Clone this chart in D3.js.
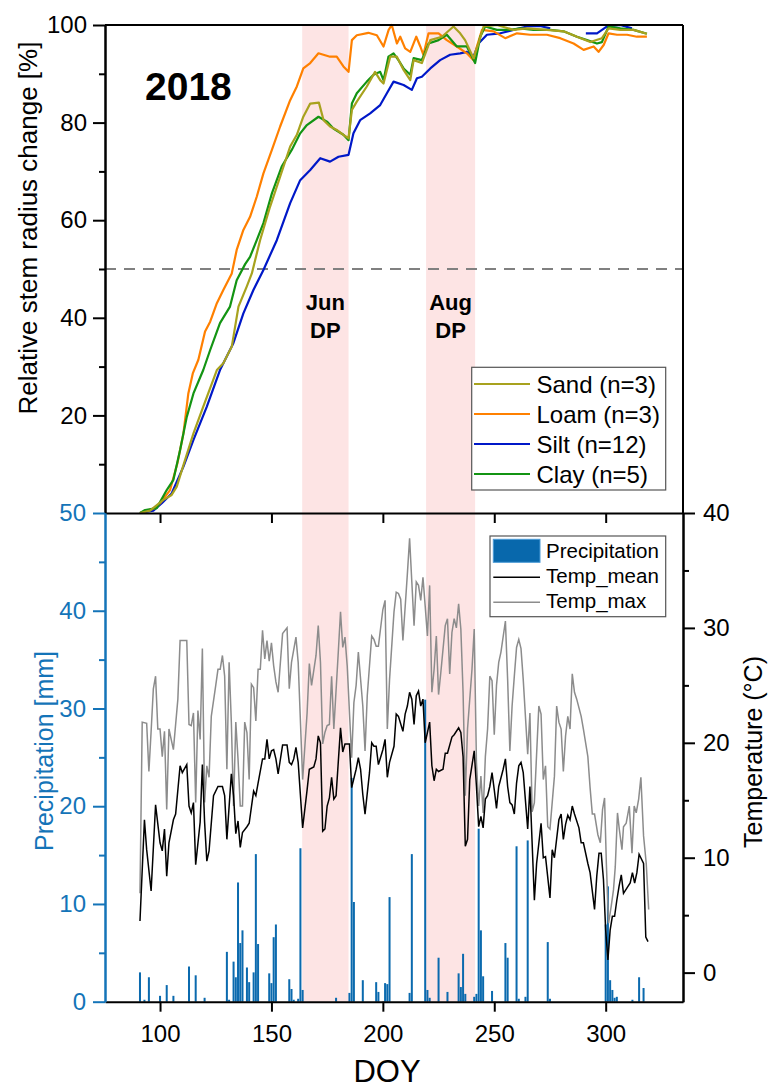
<!DOCTYPE html>
<html>
<head>
<meta charset="utf-8">
<script src="https://cdn.jsdelivr.net/npm/d3@7"></script>
<style>
  body { margin: 0; background: #fff; }
  text { font-family: "Liberation Sans", Arial, sans-serif; }
</style>
</head>
<body>
<svg id="chart" width="768" height="1089"></svg>
<script>
// stem growth curves, [DOY, relative change %]
const sand = [[91,0],[95.5,0.5],[101.5,2.7],[105.2,3.7],[107.5,5.4],[110.5,9.8],[115,16.3],[119.4,21.8],[125.5,29.3],[128.4,30.7],[132.2,34.1],[133.7,38.2],[135.2,42.3],[138.9,46.4],[141.2,49.1],[144.9,55.9],[149.4,62.8],[153.9,68.9],[158.4,75.1],[161.4,77.5],[164.3,81.2],[167.4,83.9],[171.3,84.1],[173.4,80.5],[176.3,79.2],[179.3,78.5],[182.3,77.5],[184.6,76.8],[186.1,82.6],[188.3,84.3],[192.8,87.4],[196.5,90.4],[198.8,88.7],[200.3,88.0],[203.3,93.5],[206.3,93.5],[209.3,90.8],[212.3,88.7],[213.8,92.8],[217.5,92.2],[221.3,96.9],[226.5,97.6],[231.7,99.7],[234.7,98.3],[236.9,96.9],[240.7,93.2],[242.9,96.2],[245.2,99.7],[251.2,100],[258.6,99],[264.6,99.3],[273.6,99],[281.1,98.7],[287.1,97.6],[293.1,96.5],[298.3,97.3],[301.3,99.3],[306.6,99],[312.5,99],[318.5,98.2]];
const loam = [[91,0],[97.8,1],[100,2],[104.5,4.7],[107.8,10.2],[110.5,16.3],[112.7,24.5],[114.7,28.6],[117.2,31.4],[120.2,37.2],[122.5,39.2],[125.5,43.0],[128.4,45.7],[132.2,49.1],[134.4,53.9],[137.4,58.0],[140.4,60.7],[143.4,64.8],[146.4,69.6],[150.2,74.4],[153.9,79.2],[158.4,84.6],[161.4,87.4],[164.3,91.1],[167.4,92.2],[171.1,94.2],[176.3,93.5],[179.3,93.5],[182.3,91.5],[184.6,90.4],[186.1,96.9],[188.3,97.9],[193.5,98.4],[197.3,97.9],[200.3,95.6],[202.6,99],[204,100],[206.3,96.2],[207.8,97.6],[210,95.2],[212.3,94.5],[215,97.6],[216.8,95.6],[218.2,93.9],[220.5,98.3],[225,98.3],[228.7,96.9],[233.2,95.6],[237.7,94.2],[240.7,92.8],[242.2,95.6],[244.5,99.0],[249.7,98.7],[254.9,97.3],[260.2,98.3],[266.1,98.0],[273.6,98.0],[279.6,97.3],[285.6,96.2],[290.1,94.9],[294.6,95.6],[296.8,94.5],[299.1,95.9],[301.3,98.3],[305.1,98.0],[309.6,98.0],[314,97.6],[318.5,97.6]];
const silt = [[91,0],[97,0.5],[100.8,2.0],[105.2,4.0],[110.5,9.5],[115,15.0],[121,21.8],[126.9,29.3],[132.9,34.8],[137.4,40.9],[141.9,45.7],[146.4,49.8],[152.4,55.9],[158.4,63.5],[162.9,68.2],[167.4,70.3],[171.9,72.7],[176.3,72.0],[180.1,73.0],[184.6,73.4],[186.8,77.8],[189.8,80.5],[194.3,81.9],[198.8,83.6],[201.8,86.0],[204.8,88.4],[209.3,87.7],[213,86.7],[215.3,89.1],[217.5,89.4],[221.3,91.1],[225.7,92.8],[230.2,93.9],[234.7,94.2],[237.7,94.5],[240.7,93.5],[242.9,96.2],[246.7,98],[252.7,98.3],[258.6,99],[264.6,99.7],[270.6,99.8],[275.1,99.3],[280,null],[291.1,98.3],[296.1,98.3],[300.6,99.7],[306.6,100],[311.8,99.3]];
const clay = [[91,0],[93.3,0.6],[98.5,1],[103,4.7],[106,6.8],[109,12.9],[112,19.7],[115,24.5],[119.4,29.3],[122.5,33.4],[126.9,38.9],[131.4,42.3],[134.4,47.7],[138.2,51],[140.4,52.5],[143.4,55.9],[146.4,59.4],[150.2,65.5],[154.6,71.0],[159.1,74.4],[162.9,77.8],[165.9,79.5],[171.1,81.2],[174.9,80.2],[177.8,78.8],[182.3,77.5],[184.6,76.4],[186.1,83.9],[188.3,86.0],[192.8,88.4],[195.8,89.8],[198.8,90.4],[200.3,88.7],[202.5,93.5],[204.8,94.2],[207,92.8],[209.3,91.1],[212.3,89.8],[213.8,93.2],[217.5,92.8],[220.5,96.2],[225,96.9],[228.7,98],[233.2,95.6],[237.7,95.6],[241.4,92.2],[243.7,97.6],[245.9,99.7],[251.2,99.0],[257.2,99.0],[261.7,99.3],[267.6,99.0],[275.1,99.0],[281.1,98.7],[287.1,97.6],[291.6,96.9],[296.1,96.2],[298.3,96.5],[301.3,99.7],[306.6,99.3],[312.5,99.0],[318.5,98.2]];

const soilNames = ["Sand (n=3)", "Loam (n=3)", "Silt (n=12)", "Clay (n=5)"];
const soilColors = ["#a8a21e", "#ff8000", "#0018c8", "#139413"];

// weather, [DOY, value]
const precip = [[91,3.0],[93,0.2],[95,2.5],[100,0.6],[103,1.7],[106,0.6],[113,3.6],[116,2.7],[120,0.4],[130,5.1],[131,0.2],[133,4.1],[134,2.5],[135,12.2],[136,6.0],[137,7.3],[139,3.5],[140,2.0],[142,3.0],[143,15.1],[144,5.9],[149,2.9],[150,1.9],[151,6.6],[152,7.9],[158,2.3],[159,1.3],[160,0.2],[162,0.3],[163,15.7],[164,1.2],[179,0.4],[185,0.9],[186,22.9],[187,10.2],[191,2.2],[197,2.0],[198,1.0],[201,1.9],[202,1.8],[203,10.7],[212,0.9],[213,15.1],[219,30.9],[220,1.2],[221,0.4],[225,4.5],[229,1.0],[234,2.9],[235,1.5],[236,4.9],[237,0.8],[241,0.5],[242,0.8],[243,17.7],[244,7.3],[245,2.6],[249,1.1],[255,6.0],[256,4.5],[260,15.9],[261,0.3],[264,0.5],[265,16.5],[274,6.1],[275,0.3],[300,7.9],[301,11.8],[302,2.2],[303,1.2],[304,0.4],[305,0.5],[312,0.2],[315,2.5],[317,1.4]];

const tempMean = [[91,4.5],[93,13.3],[94,10.7],[96,7.1],[98,14.6],[100,11.3],[101,10.6],[102,12.5],[103,8.4],[104,11.3],[106,13.3],[107,13.8],[109,18.0],[110,17.4],[112,18.1],[113,14.5],[114,13.9],[115,14.8],[116,9.4],[118,13.1],[119,18.1],[120,13.1],[121,9.7],[122,10.6],[124,15.4],[126,16.2],[128,16.2],[129,15.4],[130,11.6],[132,17.3],[133,15.4],[134,12.1],[135,13.2],[136,10.9],[137,12.2],[139,12.7],[140,13.0],[142,15.8],[143,15.4],[144,16.5],[146,18.6],[147,18.6],[148,20.3],[149,18.6],[150,19.3],[151,19.4],[152,18.6],[153,17.3],[155,19.8],[157,19.8],[158,18.3],[159,18.1],[160,18.6],[161,19.6],[162,18.3],[164,12.6],[166,15.9],[167,17.7],[169,17.9],[170,18.6],[171,20.6],[172,20.0],[173,12.3],[174,12.5],[175,14.5],[176,15.2],[177,17.0],[178,15.1],[179,15.4],[181,21.3],[182,19.2],[183,19.9],[185,19.9],[186,16.1],[188,17.7],[189,18.7],[190,17.7],[191,15.5],[192,13.8],[194,17.4],[195,20.0],[196,19.7],[197,19.7],[198,18.1],[200,19.4],[201,20.3],[202,17.0],[203,18.3],[205,19.7],[206,22.5],[207,22.3],[209,21.0],[210,22.5],[211,23.2],[212,24.4],[213,23.8],[214,21.6],[215,24.1],[216,24.5],[217,23.2],[218,23.8],[219,20.0],[220,20.9],[221,21.8],[222,18.0],[223,16.7],[224,17.7],[225,17.5],[227,17.7],[228,19.1],[229,19.1],[231,20.5],[232,20.7],[234,21.3],[235,20.9],[236,18.8],[237,11.0],[238,11.6],[239,16.8],[241,19.3],[242,16.2],[243,12.7],[244,13.6],[245,12.6],[246,15.1],[247,15.4],[248,16.2],[249,17.4],[250,15.9],[251,14.3],[252,16.2],[254,17.7],[255,18.6],[256,16.2],[257,14.8],[258,14.6],[259,13.8],[260,16.5],[261,18.0],[262,18.3],[263,17.4],[265,12.5],[266,16.2],[268,6.3],[269,9.5],[271,13.0],[272,10.0],[273,10.1],[275,6.5],[276,10.7],[277,10.0],[279,13.3],[280,13.8],[281,11.6],[282,12.9],[283,13.7],[284,13.3],[285,14.5],[286,13.8],[288,12.6],[289,11.3],[290,11.3],[292,9.5],[293,8.7],[295,5.5],[296,8.4],[297,10.4],[298,10.4],[299,8.1],[300,3.7],[301,1.1],[302,3.7],[303,4.9],[304,4.9],[305,6.3],[306,7.5],[307,8.5],[308,6.9],[310,7.5],[311,7.8],[312,8.7],[313,7.8],[314,8.7],[315,10.3],[317,9.5],[318,3.1],[319,2.7]];

const tempMax = [[91,6.9],[92,21.8],[94,21.7],[95,17.5],[96,21],[97,24.7],[98,25.8],[99,21.2],[100,21.2],[101,18.8],[102,21.0],[103,14.2],[104,21.2],[106,19.4],[108,23.8],[109,28.9],[112,28.9],[113,21.6],[114,21.5],[115,22.6],[116,14.8],[117,22.8],[118,20.3],[119,28.2],[120,14.8],[121,18.0],[122,17.0],[123,22.3],[125,25.0],[126,26.4],[127,26.4],[128,27.6],[129,25.8],[130,17.7],[131,27.0],[132,21.8],[133,14.5],[134,21.8],[135,18.6],[136,14.5],[137,14.5],[138,21.8],[139,20.9],[140,16.8],[141,25.1],[142,24.8],[143,21.9],[144,26.4],[145,26.4],[146,29.8],[147,27.3],[148,28.9],[149,27.1],[150,28.7],[151,26.7],[152,25.3],[153,24.4],[155,29.5],[157,30.0],[158,24.7],[159,27.0],[161,29.2],[162,27.0],[164,16.8],[166,22.6],[167,26.9],[168,25.0],[170,27.6],[171,30.2],[172,27.0],[173,19.9],[174,20.9],[175,21.5],[176,21.6],[177,25.8],[178,21.2],[180,27.9],[181,31.4],[182,28.3],[183,29.2],[184,26.7],[186,18.7],[187,23.5],[188,25.0],[189,27.9],[191,23.2],[192,19.3],[193,24.1],[195,29.3],[196,29.0],[197,28.4],[198,28.4],[200,31.6],[201,32.4],[202,21.2],[203,25.5],[205,31.4],[206,33.1],[207,33.0],[208,32.5],[209,28.9],[211,34.7],[212,37.8],[213,34.0],[214,30.2],[215,34.0],[216,33.7],[217,32.4],[218,34.4],[219,31.9],[220,29.3],[221,33.7],[222,24.4],[223,26.4],[224,29.3],[225,24.2],[226,26.1],[228,30.2],[229,30.8],[230,26.0],[231,29.6],[232,30.8],[233,30.0],[234,32.1],[235,29.9],[236,24.4],[237,15.4],[238,21.2],[240,26.4],[241,29.9],[242,18.3],[243,14.5],[244,17.1],[245,13.9],[246,18.8],[247,21.2],[248,25.8],[249,25.4],[250,20.7],[251,25.0],[252,27.0],[253,27.9],[255,30.6],[256,25.5],[257,19.3],[258,23.2],[259,25.8],[260,28.3],[261,29.0],[262,28.2],[263,25.5],[265,19.0],[266,22.6],[267,14.0],[268,14.8],[270,23.2],[271,22.5],[272,16.8],[273,18.0],[274,12.7],[275,12.5],[277,17.1],[278,23.2],[279,21.8],[280,21.2],[281,17.5],[282,20.6],[283,22.3],[284,21.2],[285,26.0],[286,24.4],[287,23.8],[289,22.3],[290,21.2],[292,18.8],[293,16.1],[294,13.8],[295,13.8],[296.5,12.0],[297.6,11.3],[298.6,14.2],[299.5,15.2],[300.3,9.5],[301.3,4.3],[302.5,5.8],[303.5,7.2],[304.3,9.2],[305.3,13.9],[306.1,12.5],[307.3,10.7],[308,12.7],[309.2,13.0],[310.6,14.5],[311.8,10.4],[312.8,14.5],[313.7,13.9],[314.8,15.1],[315.8,17.0],[317,11.9],[318.2,9.5],[319.3,5.5]];

// drought periods (DOY)
const droughtNames = ["Jun", "Aug"];
const droughtStart = [163.8, 219.4];
const droughtEnd = [184.6, 241.4];

const xTicks = [100, 150, 200, 250, 300];

const svg = d3.select("#chart");
const pLeft = 105, pRight = 683, pTop = 25, pMid = 513, pBottom = 1001.7;

const x = d3.scaleLinear().domain([75.3, 334.7]).range([pLeft, pRight]);
const yTop = d3.scaleLinear().domain([0, 100]).range([pMid, pTop]);
const yP = d3.scaleLinear().domain([0, 50]).range([pBottom, pMid]);
const yT = d3.scaleLinear().domain([-2.53, 40]).range([pBottom, pMid]);

const blue = "#1474b8";

// pink drought bands across both panels
svg.append("g").selectAll("rect")
  .data(droughtNames)
  .join("rect")
  .attr("x", (d, i) => x(droughtStart[i]))
  .attr("width", (d, i) => x(droughtEnd[i]) - x(droughtStart[i]))
  .attr("y", pTop)
  .attr("height", pBottom - pTop)
  .attr("fill", "#fde4e4");

// 50% line
svg.append("line")
  .attr("x1", pLeft).attr("x2", pRight)
  .attr("y1", yTop(50)).attr("y2", yTop(50))
  .attr("stroke", "#808080").attr("stroke-width", 2)
  .attr("stroke-dasharray", "11,8");

// band labels
droughtNames.forEach((n, i) => {
  const cx = x((droughtStart[i] + droughtEnd[i]) / 2);
  const t = svg.append("text")
    .attr("text-anchor", "middle")
    .style("font-size", "22px").style("font-weight", "bold");
  t.append("tspan").attr("x", cx).attr("y", 309.5).text(n);
  t.append("tspan").attr("x", cx).attr("y", 338).text("DP");
});

// growth curves
const line = d3.line()
  .defined(d => d[1] != null)
  .x(d => x(d[0]))
  .y(d => yTop(d[1]));

const curves = [silt, loam, clay, sand];
const curveColors = [soilColors[2], soilColors[1], soilColors[3], soilColors[0]];
svg.append("g").selectAll("path")
  .data(curves)
  .join("path")
  .attr("d", line)
  .attr("fill", "none")
  .attr("stroke", (d, i) => curveColors[i])
  .attr("stroke-width", 2.2)
  .attr("stroke-linejoin", "round");

// precipitation bars
svg.append("g").selectAll("rect")
  .data(precip)
  .join("rect")
  .attr("x", d => x(d[0] - 0.45))
  .attr("width", d => x(d[0] + 0.45) - x(d[0] - 0.45))
  .attr("y", d => yP(d[1]))
  .attr("height", d => yP(0) - yP(d[1]))
  .attr("fill", "#0b6aae");

// temperature lines
const tLine = d3.line().x(d => x(d[0])).y(d => yT(d[1]));
svg.append("path").datum(tempMax)
  .attr("d", tLine).attr("fill", "none")
  .attr("stroke", "#8c8c8c").attr("stroke-width", 1.5);
svg.append("path").datum(tempMean)
  .attr("d", tLine).attr("fill", "none")
  .attr("stroke", "#000").attr("stroke-width", 1.5);

// ---- axes ----
function styleAxis(g, color, size) {
  g.select(".domain").attr("stroke", color).attr("stroke-width", 2);
  g.selectAll(".tick line").attr("stroke", color).attr("stroke-width", 2);
  g.selectAll(".tick text").attr("fill", color)
    .style("font-size", size + "px")
    .style("font-family", "'Liberation Sans', Arial, sans-serif");
}

// top panel frame
svg.append("line").attr("x1", pLeft).attr("x2", pRight).attr("y1", pTop).attr("y2", pTop)
  .attr("stroke", "#000").attr("stroke-width", 2);
svg.append("line").attr("x1", pRight).attr("x2", pRight).attr("y1", pTop).attr("y2", pMid)
  .attr("stroke", "#000").attr("stroke-width", 2);

// top left axis
const gTopL = svg.append("g").attr("transform", `translate(${pLeft},0)`)
  .call(d3.axisLeft(yTop).tickValues([20, 40, 60, 80, 100]).tickSize(12).tickPadding(6).tickSizeOuter(0));
styleAxis(gTopL, "#000", 24);
svg.append("g").attr("transform", `translate(${pLeft},0)`)
  .call(d3.axisLeft(yTop).tickValues([10, 30, 50, 70, 90]).tickSize(6).tickFormat("").tickSizeOuter(0))
  .call(g => styleAxis(g, "#000", 24));

// shared middle axis with inward ticks
const gMid = svg.append("g").attr("transform", `translate(0,${pMid})`)
  .call(d3.axisBottom(x).tickValues(xTicks).tickSize(10).tickFormat("").tickSizeOuter(0));
styleAxis(gMid, "#000", 24);

// bottom x axis
const gX = svg.append("g").attr("transform", `translate(0,${pBottom})`)
  .call(d3.axisBottom(x).tickValues(xTicks).tickSize(10).tickPadding(13).tickSizeOuter(0));
styleAxis(gX, "#000", 24);

// precipitation axis
const gP = svg.append("g").attr("transform", `translate(${pLeft},0)`)
  .call(d3.axisLeft(yP).tickValues([0, 10, 20, 30, 40, 50]).tickSize(12).tickPadding(7).tickSizeOuter(0));
styleAxis(gP, blue, 24);
svg.append("g").attr("transform", `translate(${pLeft},0)`)
  .call(d3.axisLeft(yP).tickValues([5, 15, 25, 35, 45]).tickSize(6).tickFormat("").tickSizeOuter(0))
  .call(g => styleAxis(g, blue, 24));

// temperature axis
const gT = svg.append("g").attr("transform", `translate(${pRight},0)`)
  .call(d3.axisRight(yT).tickValues([0, 10, 20, 30, 40]).tickSize(12).tickPadding(8).tickSizeOuter(0));
styleAxis(gT, "#000", 24);
svg.append("g").attr("transform", `translate(${pRight},0)`)
  .call(d3.axisRight(yT).tickValues([5, 15, 25, 35]).tickSize(6).tickFormat("").tickSizeOuter(0))
  .call(g => styleAxis(g, "#000", 24));

// axis titles
svg.append("text")
  .attr("transform", "translate(37,228) rotate(-90)")
  .attr("text-anchor", "middle").style("font-size", "26px")
  .text("Relative stem radius change [%]");
svg.append("text")
  .attr("transform", "translate(53,751) rotate(-90)")
  .attr("text-anchor", "middle").style("font-size", "25px").attr("fill", blue)
  .text("Precipitation [mm]");
svg.append("text")
  .attr("transform", "translate(762,752) rotate(-90)")
  .attr("text-anchor", "middle").style("font-size", "25px")
  .text("Temperature (°C)");
svg.append("text")
  .attr("x", 387).attr("y", 1082)
  .attr("text-anchor", "middle").style("font-size", "31px")
  .text("DOY");

// year label
svg.append("text")
  .attr("x", 145).attr("y", 99.5)
  .style("font-size", "39px").style("font-weight", "bold")
  .text("2018");

// top legend
const lg = svg.append("g");
lg.append("rect").attr("x", 471.7).attr("y", 367.3).attr("width", 194).attr("height", 122.7)
  .attr("fill", "#fff").attr("stroke", "#555").attr("stroke-width", 1.2);
soilNames.forEach((n, i) => {
  const yy = 384 + i * 30;
  lg.append("line").attr("x1", 474).attr("x2", 530).attr("y1", yy).attr("y2", yy)
    .attr("stroke", soilColors[i]).attr("stroke-width", 2);
  lg.append("text").attr("x", 536.5).attr("y", yy + 8.5)
    .style("font-size", "24px").text(n);
});

// bottom legend
const lg2 = svg.append("g");
lg2.append("rect").attr("x", 490).attr("y", 536).attr("width", 175.7).attr("height", 80.7)
  .attr("fill", "#fff").attr("stroke", "#555").attr("stroke-width", 1.2);
lg2.append("rect").attr("x", 493.3).attr("y", 539.3).attr("width", 46.7).attr("height", 23)
  .attr("fill", "#0868ac").attr("stroke", "#4a9ad6").attr("stroke-width", 1);
lg2.append("line").attr("x1", 493.3).attr("x2", 540).attr("y1", 577.3).attr("y2", 577.3)
  .attr("stroke", "#000").attr("stroke-width", 1.5);
lg2.append("line").attr("x1", 493.3).attr("x2", 540).attr("y1", 602.3).attr("y2", 602.3)
  .attr("stroke", "#8c8c8c").attr("stroke-width", 1.5);
["Precipitation", "Temp_mean", "Temp_max"].forEach((n, i) => {
  lg2.append("text").attr("x", 546).attr("y", 558 + i * 25)
    .style("font-size", "20.5px").text(n);
});
</script>
</body>
</html>
